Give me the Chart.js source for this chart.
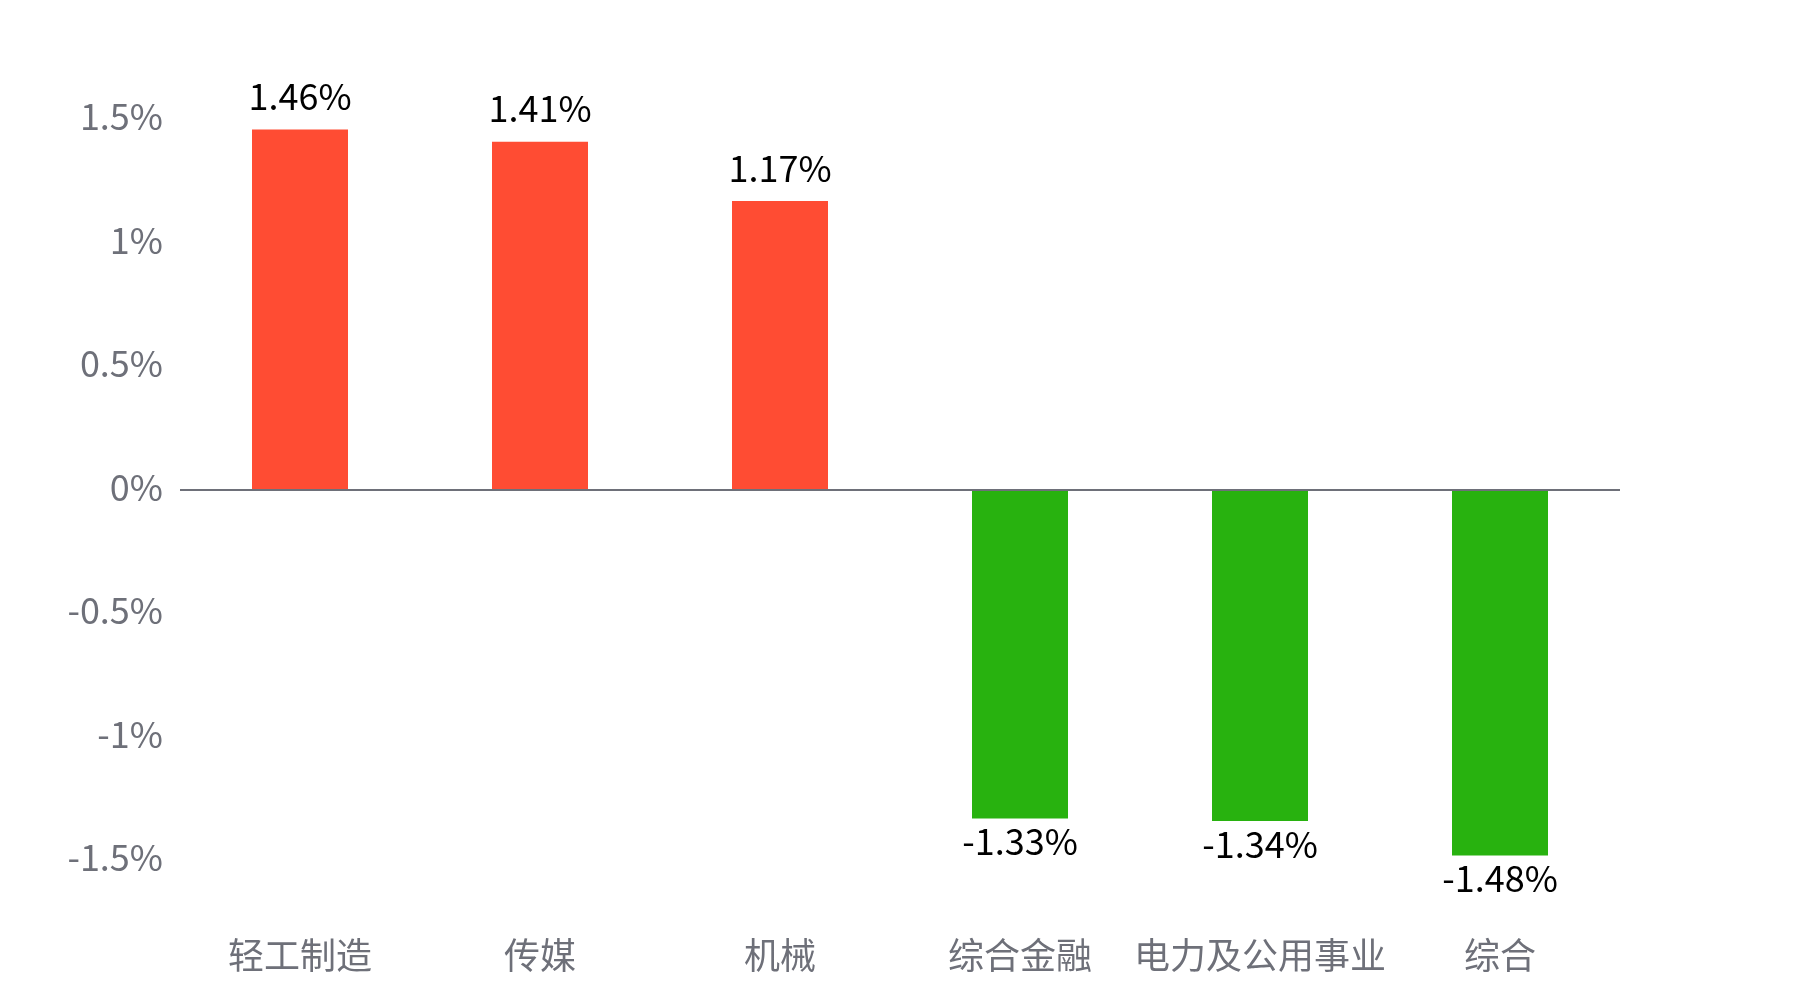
<!DOCTYPE html>
<html>
<head>
<meta charset="utf-8">
<script src="https://cdn.jsdelivr.net/npm/chart.js@4/dist/chart.umd.min.js"></script>
<style>
  html, body { margin: 0; padding: 0; background: #fff; }
  #wrap { width: 1800px; height: 1000px; }
</style>
</head>
<body>
<div id="wrap"><canvas id="chart" width="1800" height="1000"></canvas></div>
<script>
// industry names and daily change (%)
const categories = ["轻工制造", "传媒", "机械", "综合金融", "电力及公用事业", "综合"];
const changes = [1.46, 1.41, 1.17, -1.33, -1.34, -1.48];
const yTicks = [-1.5, -1, -0.5, 0, 0.5, 1, 1.5];

const upColor = "#ff4c33";
const downColor = "#28b20f";
const fontFamily = "'Noto Sans CJK SC', 'Noto Sans', sans-serif";

// value labels above / below each bar
const valueLabels = {
    id: "valueLabels",
    afterDatasetsDraw(chart) {
        const ctx = chart.ctx;
        const meta = chart.getDatasetMeta(0);
        ctx.save();
        ctx.font = "36px " + fontFamily;
        ctx.fillStyle = "#000";
        ctx.textAlign = "center";
        ctx.textBaseline = "middle";
        meta.data.forEach(function (bar, i) {
            let v = changes[i];
            let y = v >= 0 ? bar.y - 33 : bar.y + 23;
            ctx.fillText(v.toFixed(2) + "%", bar.x, y);
        });
        ctx.restore();
    }
};

var ctx = document.getElementById("chart").getContext("2d");
var chart = new Chart(ctx, {
    type: "bar",
    data: {
        labels: categories,
        datasets: [{
            data: changes,
            backgroundColor: changes.map(v => v >= 0 ? upColor : downColor),
            categoryPercentage: 1,
            barPercentage: 0.4
        }]
    },
    options: {
        responsive: false,
        animation: false,
        layout: { padding: { top: 119.5, right: 180, left: 0, bottom: 0 } },
        plugins: {
            legend: { display: false },
            tooltip: { enabled: false }
        },
        scales: {
            x: {
                grid: { display: false, drawTicks: false },
                border: { display: false },
                ticks: {
                    color: "#6e7079",
                    font: { family: fontFamily, size: 36 },
                    padding: 73,
                    maxRotation: 0,
                    autoSkip: false
                },
                afterFit(scale) { scale.height = 139.5; }
            },
            y: {
                min: -1.5,
                max: 1.5,
                afterBuildTicks(scale) {
                    scale.ticks = yTicks.map(v => ({ value: v }));
                },
                grid: {
                    drawTicks: false,
                    color: c => c.tick && c.tick.value === 0 ? "#6e7079" : "rgba(0,0,0,0)",
                    lineWidth: 2
                },
                border: { display: false },
                ticks: {
                    color: "#6e7079",
                    font: { family: fontFamily, size: 36 },
                    padding: 17,
                    labelOffset: -3,
                    callback: v => v + "%"
                },
                afterFit(scale) { scale.width = 180; }
            }
        }
    },
    plugins: [valueLabels]
});
</script>
</body>
</html>
